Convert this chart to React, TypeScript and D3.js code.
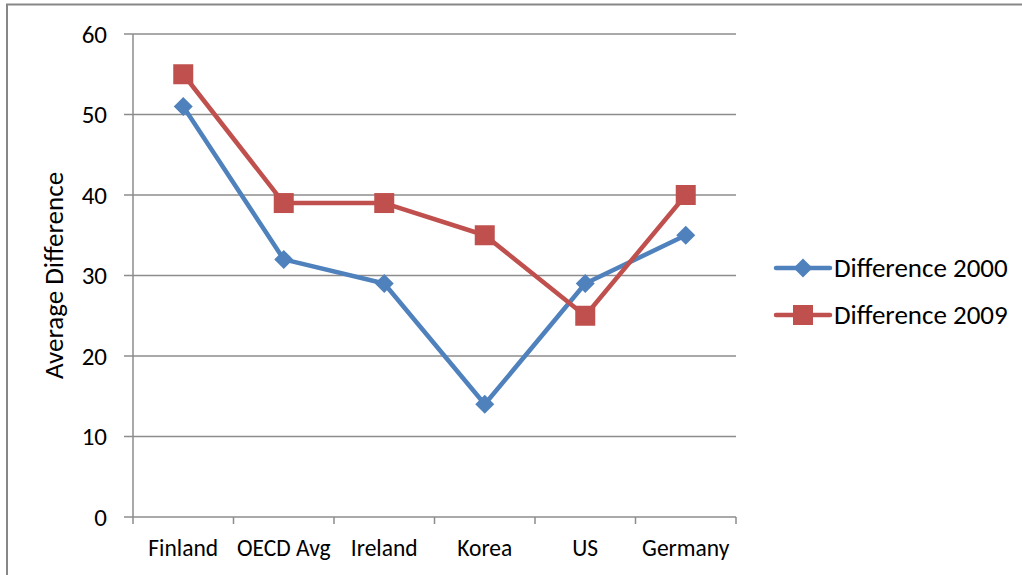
import React, { useRef, useEffect } from "react"
import * as d3 from "d3"

const countries = ["Finland", "OECD Avg", "Ireland", "Korea", "US", "Germany"]
const diff2000 = [51, 32, 29, 14, 29, 35]
const diff2009 = [55, 39, 39, 35, 25, 40]
const yTicks = [0, 10, 20, 30, 40, 50, 60]

const BLUE = "#4F81BD"
const RED = "#C0504D"
const FONT = "Carlito, Lato, 'Open Sans', sans-serif"

const App = () => {
  const svgRef = useRef<SVGSVGElement>(null)

  useEffect(() => {
    const W = 1022
    const H = 575
    const margin = { top: 34, right: 286, bottom: 58, left: 133 }
    const width = W - margin.left - margin.right
    const height = H - margin.top - margin.bottom

    const root = d3.select(svgRef.current).attr("width", W).attr("height", H)
    root.selectAll("*").remove()

    // chart frame
    root
      .append("rect")
      .attr("x", 7)
      .attr("y", 4.5)
      .attr("width", W + 20)
      .attr("height", H + 20)
      .attr("fill", "white")
      .attr("stroke", "#878787")
      .attr("stroke-width", 2)

    const svg = root.append("g").attr("transform", `translate(${margin.left},${margin.top})`)

    const x = d3.scaleBand().domain(countries).range([0, width])
    const y = d3.scaleLinear().domain([0, 60]).range([height, 0])

    // gridlines
    svg
      .selectAll(".grid")
      .data(yTicks)
      .enter()
      .append("line")
      .attr("x1", -9)
      .attr("x2", width)
      .attr("y1", (d) => y(d))
      .attr("y2", (d) => y(d))
      .attr("stroke", "#8c8c8c")
      .attr("stroke-width", 1.5)

    // y axis line
    svg
      .append("line")
      .attr("x1", 0)
      .attr("x2", 0)
      .attr("y1", 0)
      .attr("y2", height)
      .attr("stroke", "#8c8c8c")
      .attr("stroke-width", 1.5)

    // x tick marks
    const xTickPos = countries.map((c) => x(c) as number).concat([width])
    svg
      .selectAll(".xtick")
      .data(xTickPos)
      .enter()
      .append("line")
      .attr("x1", (d) => d)
      .attr("x2", (d) => d)
      .attr("y1", height)
      .attr("y2", height + 7)
      .attr("stroke", "#8c8c8c")
      .attr("stroke-width", 1.5)

    // y labels
    svg
      .selectAll(".ylab")
      .data(yTicks)
      .enter()
      .append("text")
      .attr("x", -26)
      .attr("y", (d) => y(d))
      .attr("dy", "0.35em")
      .attr("text-anchor", "end")
      .style("font-family", FONT)
      .style("font-size", "25px")
      .text((d) => d)

    // x labels
    svg
      .selectAll(".xlab")
      .data(countries)
      .enter()
      .append("text")
      .attr("x", (d) => (x(d) as number) + x.bandwidth() / 2)
      .attr("y", height + 39)
      .attr("text-anchor", "middle")
      .style("font-family", FONT)
      .style("font-size", "23.5px")
      .text((d) => d)

    // y title
    svg
      .append("text")
      .attr("transform", `translate(${54 - margin.left},${height / 2}) rotate(-90)`)
      .attr("dy", "0.35em")
      .attr("text-anchor", "middle")
      .style("font-family", FONT)
      .style("font-size", "27px")
      .text("Average Difference")

    const cx = (i: number) => (x(countries[i]) as number) + x.bandwidth() / 2
    const line = d3
      .line<number>()
      .x((_, i) => cx(i))
      .y((d) => y(d))

    svg
      .append("path")
      .datum(diff2000)
      .attr("d", line)
      .attr("fill", "none")
      .attr("stroke", BLUE)
      .attr("stroke-width", 4.5)
      .attr("stroke-linejoin", "round")

    svg
      .append("path")
      .datum(diff2009)
      .attr("d", line)
      .attr("fill", "none")
      .attr("stroke", RED)
      .attr("stroke-width", 4.5)
      .attr("stroke-linejoin", "round")

    const diamond = d3.symbol().type(d3.symbolDiamond2).size(230)
    svg
      .selectAll(".m2000")
      .data(diff2000)
      .enter()
      .append("path")
      .attr("d", diamond)
      .attr("transform", (d, i) => `translate(${cx(i)},${y(d)})`)
      .attr("fill", BLUE)

    svg
      .selectAll(".m2009")
      .data(diff2009)
      .enter()
      .append("rect")
      .attr("x", (_, i) => cx(i) - 10)
      .attr("y", (d) => y(d) - 10)
      .attr("width", 20)
      .attr("height", 20)
      .attr("fill", RED)

    // legend
    const legend = root.append("g").attr("transform", "translate(776,268)")
    const series = [
      { name: "Difference 2000", color: BLUE, marker: "diamond" },
      { name: "Difference 2009", color: RED, marker: "square" },
    ]
    series.forEach((s, i) => {
      const g = legend.append("g").attr("transform", `translate(0,${i * 47})`)
      g.append("line")
        .attr("x1", 0)
        .attr("x2", 54)
        .attr("stroke", s.color)
        .attr("stroke-width", 4.5)
        .attr("stroke-linecap", "round")
      if (s.marker === "diamond") {
        g.append("path").attr("d", diamond).attr("transform", "translate(27,0)").attr("fill", s.color)
      } else {
        g.append("rect").attr("x", 17).attr("y", -10).attr("width", 20).attr("height", 20).attr("fill", s.color)
      }
      g.append("text")
        .attr("x", 58)
        .attr("dy", "0.35em")
        .style("font-family", FONT)
        .style("font-size", "27px")
        .text(s.name)
    })
  }, [])

  return (
    <div style={{ position: "absolute", left: 0, top: 0, width: 1022, height: 575, overflow: "hidden" }}>
      <svg ref={svgRef} style={{ display: "block" }}></svg>
    </div>
  )
}

export default App
